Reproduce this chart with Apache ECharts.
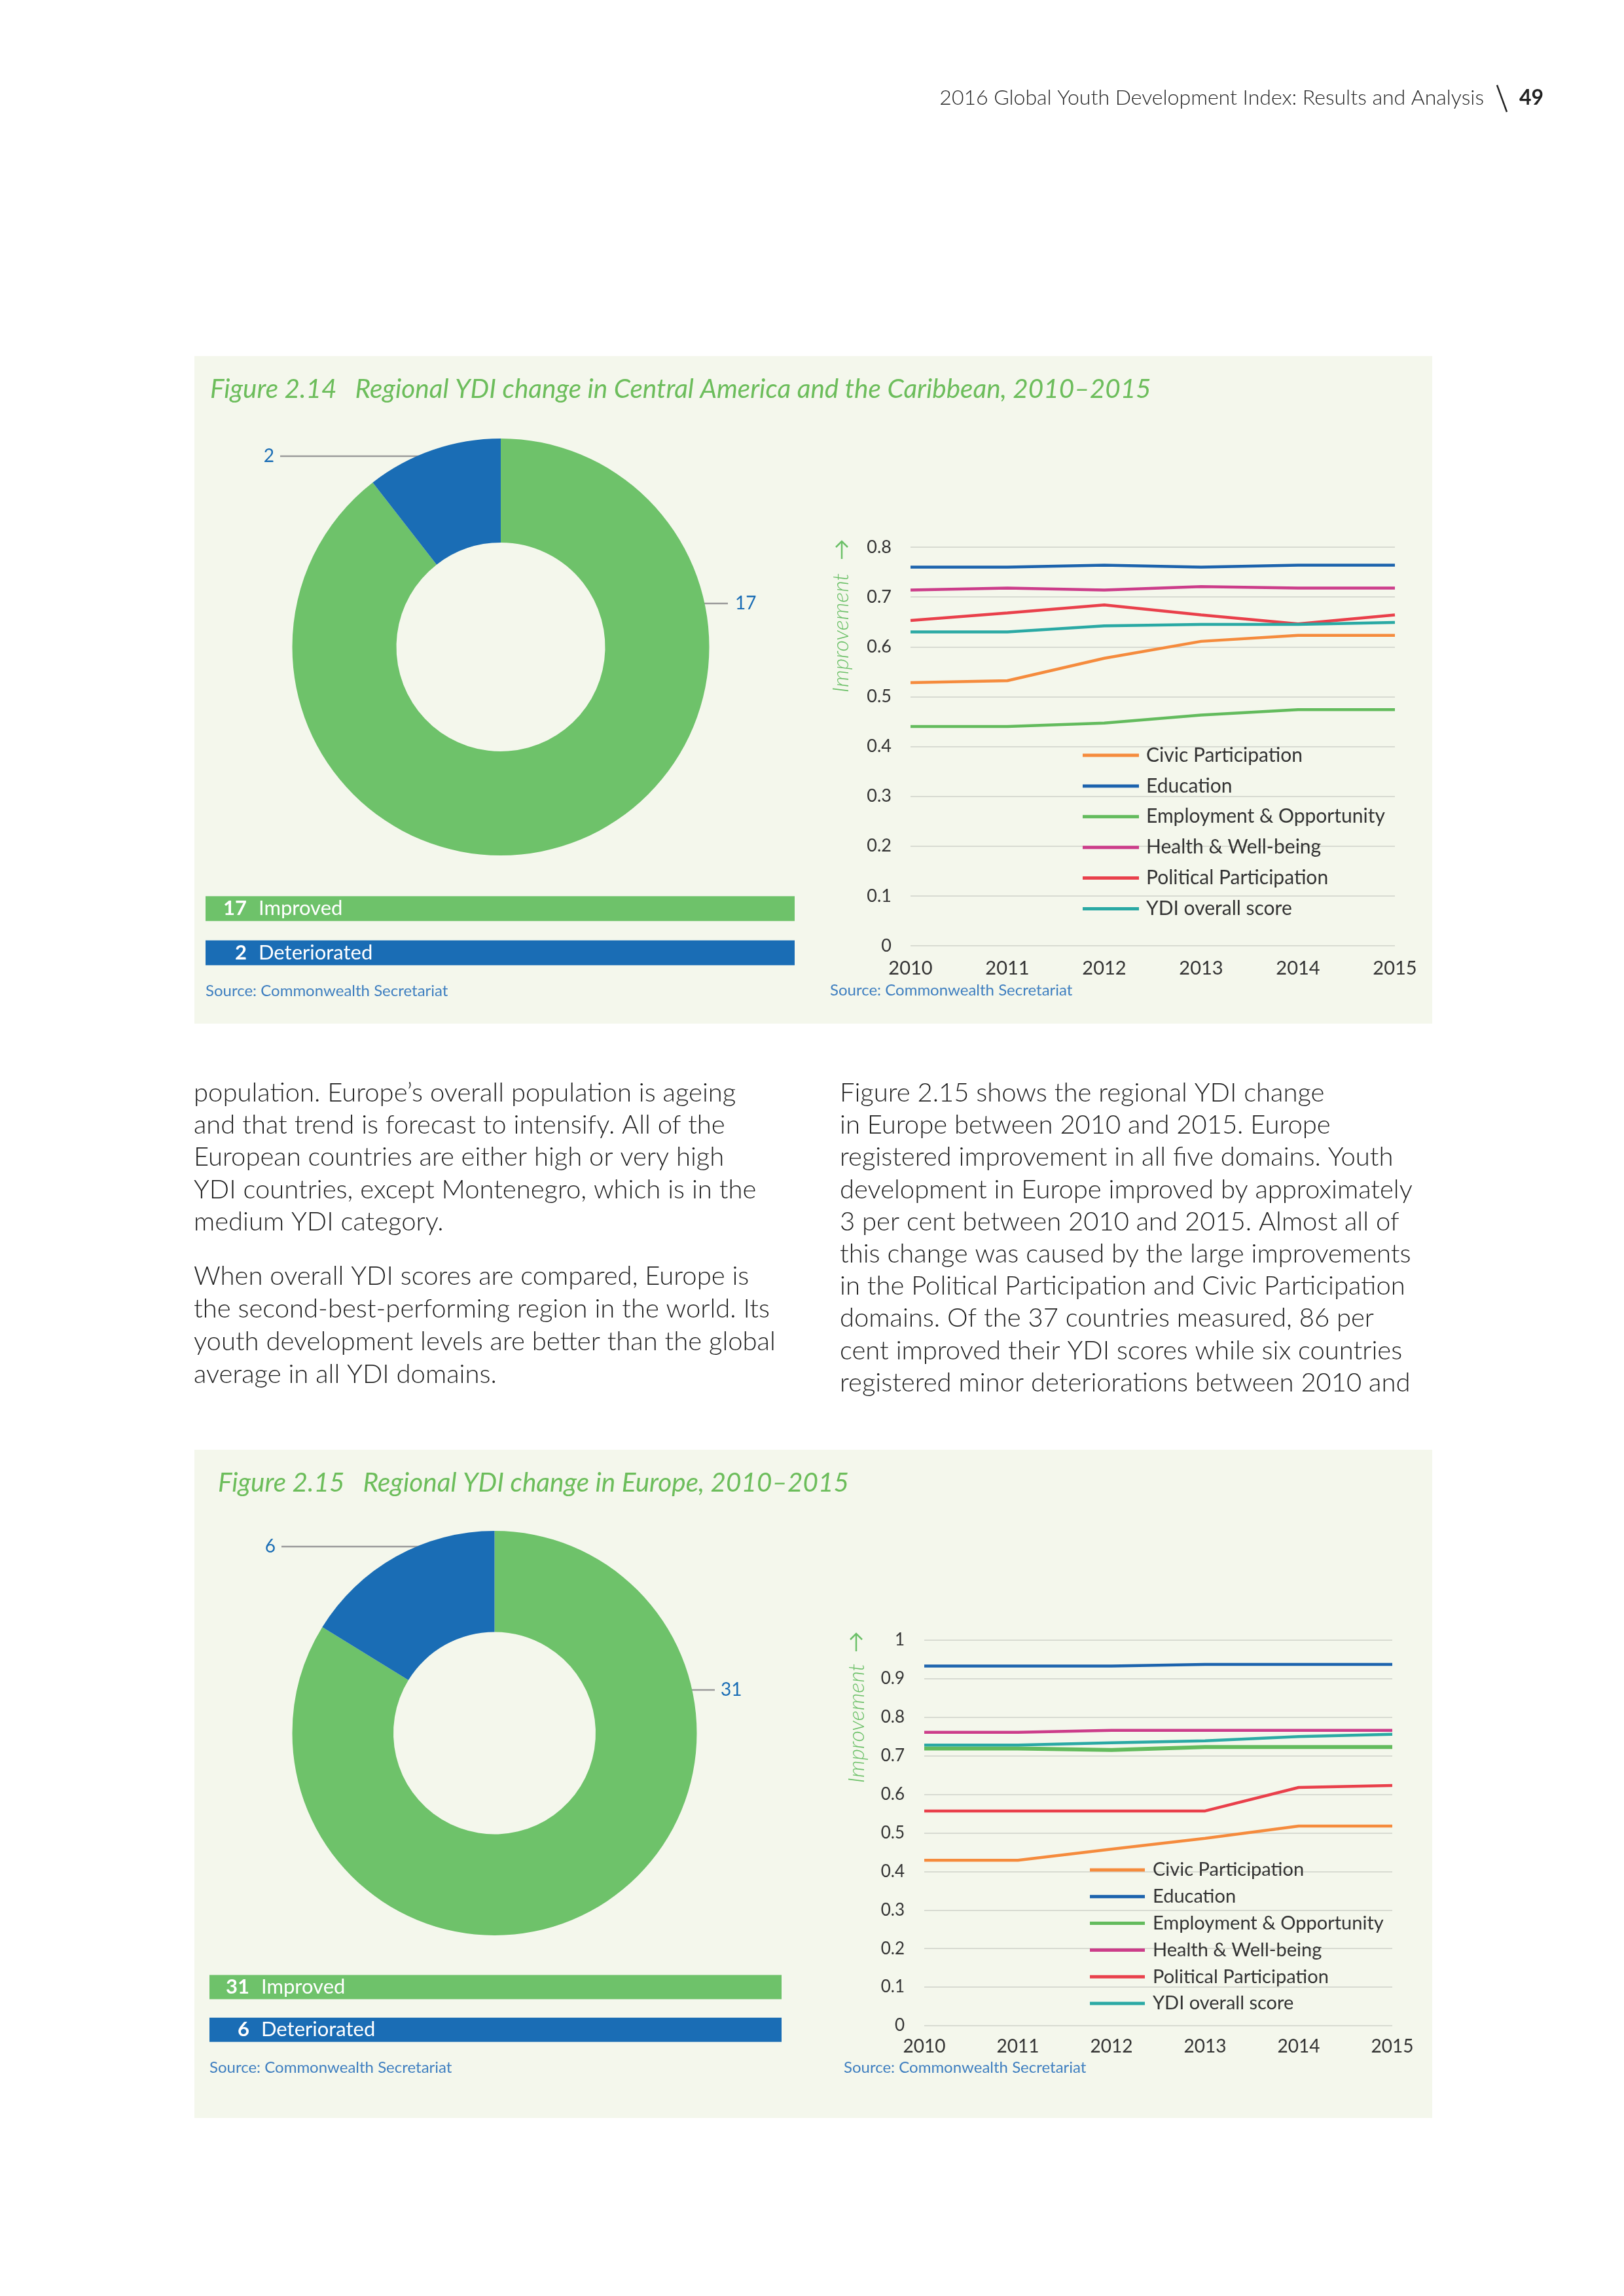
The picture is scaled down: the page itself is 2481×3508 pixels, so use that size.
<!DOCTYPE html>
<html><head><meta charset="utf-8">
<script src="https://cdn.jsdelivr.net/npm/echarts@6/dist/echarts.min.js"></script>
<style>html,body{margin:0;padding:0;background:#fff}#c{width:2481px;height:3508px}</style>
</head><body><div id="c"></div>
<script>
// ---------- DATA ----------
const years = ['2010', '2011', '2012', '2013', '2014', '2015'];
const seriesNames = ['Civic Participation', 'Education', 'Employment & Opportunity', 'Health & Well-being', 'Political Participation', 'YDI overall score'];

// Figure 2.14 Central America and the Caribbean
const carCivic      = [0.528, 0.532, 0.577, 0.611, 0.623, 0.623];
const carEducation  = [0.760, 0.760, 0.764, 0.760, 0.764, 0.764];
const carEmployment = [0.440, 0.440, 0.447, 0.463, 0.474, 0.474];
const carHealth     = [0.714, 0.718, 0.714, 0.721, 0.718, 0.718];
const carPolitical  = [0.653, 0.668, 0.684, 0.664, 0.646, 0.664];
const carYDI        = [0.630, 0.630, 0.642, 0.645, 0.645, 0.649];

// Figure 2.15 Europe
const euCivic      = [0.429, 0.429, 0.458, 0.486, 0.518, 0.518];
const euEducation  = [0.933, 0.933, 0.933, 0.937, 0.937, 0.937];
const euEmployment = [0.719, 0.719, 0.715, 0.723, 0.723, 0.723];
const euHealth     = [0.761, 0.761, 0.766, 0.766, 0.766, 0.766];
const euPolitical  = [0.557, 0.557, 0.557, 0.557, 0.618, 0.623];
const euYDI        = [0.728, 0.728, 0.734, 0.739, 0.750, 0.756];

const statusLabels = ['Improved', 'Deteriorated'];
const carCounts = [17, 2];
const euCounts = [31, 6];

const carTitle = 'Figure 2.14\u2002 Regional YDI change in Central America and the Caribbean, 2010\u20132015';
const euTitle = 'Figure 2.15\u2002 Regional YDI change in Europe, 2010\u20132015';
const sourceText = 'Source: Commonwealth Secretariat';
const headerText = '2016 Global Youth Development Index: Results and Analysis';
const pageNumber = '49';

const leftColumn = [
  ['population. Europe\u2019s overall population is ageing',
   'and that trend is forecast to intensify. All of the',
   'European countries are either high or very high',
   'YDI countries, except Montenegro, which is in the',
   'medium YDI category.'],
  ['When overall YDI scores are compared, Europe is',
   'the second-best-performing region in the world. Its',
   'youth development levels are better than the global',
   'average in all YDI domains.']
];
const rightColumn = [
  'Figure 2.15 shows the regional YDI change',
  'in Europe between 2010 and 2015. Europe',
  'registered improvement in all five domains. Youth',
  'development in Europe improved by approximately',
  '3 per cent between 2010 and 2015. Almost all of',
  'this change was caused by the large improvements',
  'in the Political Participation and Civic Participation',
  'domains. Of the 37 countries measured, 86 per',
  'cent improved their YDI scores while six countries',
  'registered minor deteriorations between 2010 and'
];

// ---------- STYLE ----------
const lineColors = ['#f58b3d', '#1c63ad', '#63bb5d', '#cc3d8a', '#e9404b', '#2aa9a4'];
const statusColors = ['#6ec26a', '#1a6db5'];
const panelColor = '#f4f7ec';
const titleGreen = '#6cbd5b';
const sourceBlue = '#3f7fc0';
const FONT = 'Lato, "Open Sans", sans-serif';
const BAR_FONT_SIZE = 31;

const chart = echarts.init(document.getElementById('c'), null, {width: 2481, height: 3508});

const measureCtx = document.createElement('canvas').getContext('2d');
function measure(text, font) { measureCtx.font = font; return measureCtx.measureText(text).width; }

function txt(x, y, text, st) {
  return {type: 'text', x: x, y: y, z: 10, silent: true,
    style: Object.assign({text: text, fill: '#1e1e1e', fontFamily: FONT, fontSize: 40, fontWeight: 300,
      align: 'left', verticalAlign: 'middle'}, st || {})};
}
function arrow(x, top, bottom) {
  return [
    {type: 'line', z: 10, silent: true, shape: {x1: x, y1: top + 1, x2: x, y2: bottom},
      style: {stroke: '#6cc068', lineWidth: 2.5}},
    {type: 'polyline', z: 10, silent: true, shape: {points: [[x - 9, top + 10], [x, top + 1], [x + 9, top + 10]]},
      style: {stroke: '#6cc068', lineWidth: 2.5, fill: null}}
  ];
}

const graphics = [];
// panels
graphics.push({type: 'rect', z: 0, silent: true, shape: {x: 297, y: 544, width: 1891, height: 1020}, style: {fill: panelColor}});
graphics.push({type: 'rect', z: 0, silent: true, shape: {x: 297, y: 2215, width: 1891, height: 1021}, style: {fill: panelColor}});
// header
graphics.push(txt(2267, 150, headerText, {align: 'right', fontSize: 32, fill: '#222'}));
graphics.push({type: 'line', z: 10, silent: true, shape: {x1: 2287, y1: 130, x2: 2302, y2: 171}, style: {stroke: '#222', lineWidth: 2.5}});
graphics.push(txt(2321, 150, pageNumber, {fontSize: 32, fontWeight: 'bold', fill: '#222'}));
// titles
graphics.push(txt(321, 595, carTitle, {fontSize: 40.5, fontStyle: 'italic', fontWeight: 400, fill: titleGreen}));
graphics.push(txt(333, 2266, euTitle, {fontSize: 40.5, fontStyle: 'italic', fontWeight: 400, fill: titleGreen}));
// sources
const srcStyle = {fontSize: 24, fontWeight: 400, fill: sourceBlue};
graphics.push(txt(314, 1514, sourceText, srcStyle));
graphics.push(txt(1268, 1513, sourceText, srcStyle));
graphics.push(txt(320, 3159, sourceText, srcStyle));
graphics.push(txt(1289, 3159, sourceText, srcStyle));
// improvement labels
const impStyle = {fontSize: 34, fontStyle: 'italic', fontWeight: 300, fill: '#6cc068', align: 'center'};
graphics.push(Object.assign(txt(1285, 967, 'Improvement', impStyle), {rotation: Math.PI / 2}));
graphics.push(Object.assign(txt(1309, 2633, 'Improvement', impStyle), {rotation: Math.PI / 2}));
arrow(1286, 826, 854).forEach(g => graphics.push(g));
arrow(1308, 2495, 2523).forEach(g => graphics.push(g));
// body text
leftColumn[0].forEach((l, i) => graphics.push(txt(296, 1670 + i * 49.2, l)));
leftColumn[1].forEach((l, i) => graphics.push(txt(296, 1950 + i * 50, l)));
rightColumn.forEach((l, i) => graphics.push(txt(1283, 1670 + i * 49.2, l)));

// ---------- SERIES ----------
const carData = [carCivic, carEducation, carEmployment, carHealth, carPolitical, carYDI];
const euData = [euCivic, euEducation, euEmployment, euHealth, euPolitical, euYDI];

const series = [];
function addLines(dataSets, gi, widths) {
  seriesNames.forEach((n, i) => {
    series.push({type: 'line', name: n, xAxisIndex: gi, yAxisIndex: gi, data: dataSets[i],
      symbol: 'none', showSymbol: false, silent: true, z: 3,
      lineStyle: {color: lineColors[i], width: widths[i]}, itemStyle: {color: lineColors[i]}});
  });
}
addLines(carData, 0, [4.5, 4.5, 4.5, 4.5, 4.5, 4.5]);
addLines(euData, 1, [4.5, 4.5, 6, 4.5, 4.5, 4.5]);

function pie(center, radius, counts, layouts) {
  return {type: 'pie', center: center, radius: radius, startAngle: 90, clockwise: true, silent: true,
    z: 3, emphasis: {disabled: true}, animation: false,
    data: statusLabels.map((n, i) => ({name: n, value: counts[i], itemStyle: {color: statusColors[i]}})),
    label: {show: true, position: 'outside', formatter: '{c}', fontSize: 28, fontFamily: FONT, color: '#1a6db5'},
    labelLine: {show: true, lineStyle: {color: '#9a9a9a', width: 2.5}},
    labelLayout: function (p) { return layouts[p.dataIndex]; }
  };
}
series.push(pie([765, 988.5], [159.5, 318.5], carCounts, [
  {x: 1123, y: 922, align: 'left', verticalAlign: 'middle', labelLinePoints: [[1076, 922], [1094, 922], [1112, 922]]},
  {x: 419, y: 697, align: 'right', verticalAlign: 'middle', labelLinePoints: [[652, 697], [540, 697], [428, 697]]}
]));
series.push(pie([755.5, 2648], [154.5, 309], euCounts, [
  {x: 1101, y: 2582, align: 'left', verticalAlign: 'middle', labelLinePoints: [[1055, 2582], [1073, 2582], [1092, 2582]]},
  {x: 421, y: 2363, align: 'right', verticalAlign: 'middle', labelLinePoints: [[647, 2363], [540, 2363], [430, 2363]]}
]));

// equal-length status bars; the count is right-aligned in a fixed slot before the name
function statusBars(gi, counts, numRight, barW) {
  const rich = {
    n: {fontFamily: FONT, fontSize: BAR_FONT_SIZE, fontWeight: 'bold', color: '#fff'},
    t: {fontFamily: FONT, fontSize: BAR_FONT_SIZE, fontWeight: 400, color: '#fff', padding: [0, 0, 0, 18]}
  };
  counts.forEach((c, i) => {
    const w = measure(String(c), 'bold ' + BAR_FONT_SIZE + 'px ' + FONT);
    rich['s' + i] = {width: Math.max(1, numRight - w), fontSize: BAR_FONT_SIZE};
  });
  return {type: 'bar', xAxisIndex: gi, yAxisIndex: gi, barWidth: barW, silent: true, z: 3,
    data: statusLabels.map((n, i) => ({name: n, value: 1, itemStyle: {color: statusColors[i]}})),
    label: {show: true, position: 'insideLeft', distance: 0,
      formatter: p => '{s' + p.dataIndex + '| }{n|' + counts[p.dataIndex] + '}{t|' + p.name + '}',
      rich: rich}
  };
}
series.push(statusBars(2, carCounts, 63, 38));
series.push(statusBars(3, euCounts, 61, 37));

const axisLabelStyle = {fontFamily: FONT, color: '#333'};

const option = {
  backgroundColor: '#ffffff',
  animation: false,
  graphic: graphics,
  grid: [
    {left: 1391, top: 836, width: 740, height: 609},
    {left: 1412, top: 2506, width: 715, height: 589},
    {left: 314, top: 1354.6, width: 900, height: 134.8},
    {left: 320, top: 3003.4, width: 874, height: 130.6}
  ],
  xAxis: [
    {gridIndex: 0, type: 'category', data: years, boundaryGap: false, axisLine: {show: false}, axisTick: {show: false},
      axisLabel: Object.assign({fontSize: 29, margin: 20}, axisLabelStyle), splitLine: {show: false}},
    {gridIndex: 1, type: 'category', data: years, boundaryGap: false, axisLine: {show: false}, axisTick: {show: false},
      axisLabel: Object.assign({fontSize: 28, margin: 18}, axisLabelStyle), splitLine: {show: false}},
    {gridIndex: 2, type: 'value', min: 0, max: 1, show: false},
    {gridIndex: 3, type: 'value', min: 0, max: 1, show: false}
  ],
  yAxis: [
    {gridIndex: 0, type: 'value', min: 0, max: 0.8, interval: 0.1, axisLine: {show: false}, axisTick: {show: false},
      axisLabel: Object.assign({fontSize: 27, margin: 29}, axisLabelStyle),
      splitLine: {lineStyle: {color: '#d8dbd2', width: 2}}},
    {gridIndex: 1, type: 'value', min: 0, max: 1, interval: 0.1, axisLine: {show: false}, axisTick: {show: false},
      axisLabel: Object.assign({fontSize: 26, margin: 30}, axisLabelStyle),
      splitLine: {lineStyle: {color: '#d8dbd2', width: 2}}},
    {gridIndex: 2, type: 'category', data: statusLabels, inverse: true, show: false},
    {gridIndex: 3, type: 'category', data: statusLabels, inverse: true, show: false}
  ],
  legend: [
    {data: seriesNames, orient: 'vertical', left: 1649, top: 1134, itemWidth: 86, itemHeight: 5, icon: 'rect',
      itemGap: 16.9, selectedMode: false,
      textStyle: {fontFamily: FONT, fontSize: 30, lineHeight: 30, color: '#333', padding: [0, 0, 0, 6]}},
    {data: seriesNames, orient: 'vertical', left: 1660, top: 2837, itemWidth: 84, itemHeight: 5, icon: 'rect',
      itemGap: 10.8, selectedMode: false,
      textStyle: {fontFamily: FONT, fontSize: 29, lineHeight: 30, color: '#333', padding: [0, 0, 0, 7]}}
  ],
  series: series
};
chart.setOption(option);
</script>
</body></html>
